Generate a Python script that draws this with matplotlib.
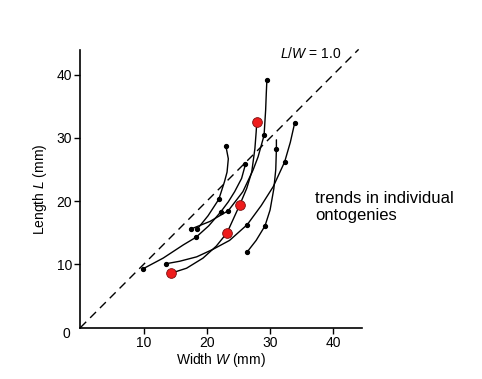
import matplotlib
matplotlib.use("Agg")
import matplotlib.pyplot as plt

plt.rcParams['font.family'] = ['Liberation Sans', 'DejaVu Sans']
plt.rcParams['mathtext.fontset'] = 'custom'
plt.rcParams['mathtext.it'] = 'Liberation Sans:italic'
plt.rcParams['mathtext.rm'] = 'Liberation Sans'

# Individual ontogenetic trajectories (width W, length L in mm)
red_x = [14.3, 16.8, 19.4, 21.5, 23.2, 24.2, 25.2, 26.3, 27.1, 27.6, 27.8, 27.9]
red_y = [8.6, 9.4, 11.0, 12.9, 15.0, 17.2, 19.4, 22.0, 24.6, 28.3, 30.9, 32.5]
red_dots_x = [14.3, 23.2, 25.2, 27.9]
red_dots_y = [8.6, 15.0, 19.4, 32.5]

a_x = [17.5, 20.5, 23.4, 25.7, 27.3, 28.1, 29.05, 29.3, 29.4, 29.5]
a_y = [15.6, 16.8, 18.5, 21.5, 24.9, 27.0, 30.4, 34.4, 37.0, 39.2]
a_dots_x = [17.5, 23.4, 29.05, 29.5]
a_dots_y = [15.6, 18.5, 30.4, 39.2]

b_x = [18.5, 20.2, 21.9, 22.8, 23.2, 23.4, 23.0]
b_y = [15.6, 17.7, 20.3, 23.1, 24.6, 26.7, 28.8]
b_dots_x = [18.5, 21.9, 23.0]
b_dots_y = [15.6, 20.3, 28.8]

c_x = [9.9, 13.1, 16.3, 18.3, 20.3, 22.2, 23.4, 24.4, 25.5, 26.1]
c_y = [9.3, 11.0, 13.1, 14.3, 16.1, 18.3, 19.9, 21.5, 23.6, 25.8]
c_dots_x = [9.9, 18.3, 22.2, 26.1]
c_dots_y = [9.3, 14.3, 18.3, 25.8]

d_x = [13.5, 15.7, 18.4, 21.0, 23.6, 26.4, 28.6, 30.5, 32.3, 33.2, 33.9]
d_y = [10.1, 10.5, 11.2, 12.4, 13.8, 16.3, 19.3, 22.3, 26.2, 29.3, 32.4]
d_dots_x = [13.5, 26.4, 32.3, 33.9]
d_dots_y = [10.1, 16.3, 26.2, 32.4]

e_x = [26.4, 27.8, 29.2, 30.0, 30.6, 30.9, 31.0, 31.0]
e_y = [12.0, 13.8, 16.1, 18.6, 22.0, 25.0, 28.2, 29.7]
e_dots_x = [26.4, 29.2, 31.0]
e_dots_y = [12.0, 16.1, 28.2]

iso_x = [0, 44]
iso_y = [0, 44]

x_ticks = [10, 20, 30, 40]
y_ticks = [10, 20, 30, 40]

fig = plt.figure(figsize=(4.82, 3.79), dpi=100)
ax = fig.add_axes([0.1666, 0.1354, 0.584, 0.7327])
ax.set_xlim(0, 44.5)
ax.set_ylim(0, 43.9)

ax.plot(iso_x, iso_y, color='black', lw=1.0, dashes=(6, 4), clip_on=False)

black_curves = [(a_x, a_y), (b_x, b_y), (c_x, c_y), (d_x, d_y), (e_x, e_y)]
for cx, cy in black_curves:
    ax.plot(cx, cy, color='black', lw=1.0, solid_joinstyle='round', solid_capstyle='round')
ax.plot(red_x, red_y, color='black', lw=1.0, solid_joinstyle='round', solid_capstyle='round')

for dx, dy in [(a_dots_x, a_dots_y), (b_dots_x, b_dots_y), (c_dots_x, c_dots_y),
               (d_dots_x, d_dots_y), (e_dots_x, e_dots_y)]:
    ax.plot(dx, dy, 'o', color='black', ms=2.8, ls='none', zorder=4)
ax.plot(red_dots_x, red_dots_y, 'o', color='#ee1c1c', mec='#7a1010', mew=0.6,
        ms=7, ls='none', zorder=5)

for s in ['top', 'right']:
    ax.spines[s].set_visible(False)
for s in ['left', 'bottom']:
    ax.spines[s].set_linewidth(1.2)

ax.set_xticks(x_ticks)
ax.set_yticks(y_ticks)
ax.tick_params(axis='both', length=4, width=1.0, labelsize=10, pad=2)
ax.text(-2.2, -1.0, '0', fontsize=10, ha='center', va='center')

ax.set_xlabel(r'Width $W$ (mm)', fontsize=10, labelpad=1)
ax.set_ylabel(r'Length $L$ (mm)', fontsize=10, labelpad=5)

ax.text(31.6, 43.4, r'$L$/$W$ = 1.0', fontsize=10, ha='left', va='center')

fig.text(315 / 482, 1 - 207 / 379, 'trends in individual\nontogenies', fontsize=12,
         ha='left', va='center', linespacing=1.2)

fig.savefig('out.png', dpi=100)
